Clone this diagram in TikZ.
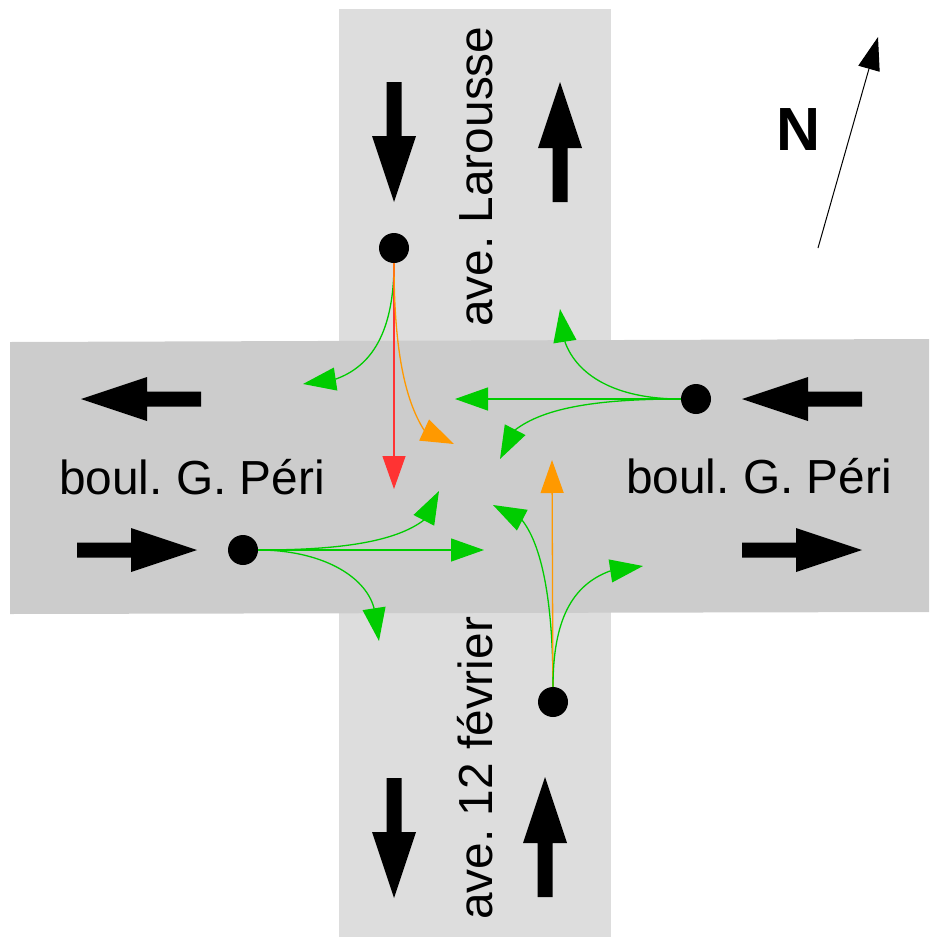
\documentclass[tikz,border=0pt]{standalone}
\usepackage{fontspec}
\setmainfont{Liberation Sans}
\frenchspacing
\usetikzlibrary{arrows.meta}
\definecolor{vroad}{HTML}{DDDDDD}
\definecolor{hroad}{HTML}{CCCCCC}
\definecolor{sgreen}{HTML}{00CC00}
\definecolor{sorange}{HTML}{FF9900}
\definecolor{sred}{HTML}{FF3333}
\tikzset{
  dot/.style={circle,fill=black,draw=none,minimum size=30pt,inner sep=0pt},
  turn/.style={line width=1.3pt,-{Triangle[length=33pt,width=23pt]}},
  gomove/.style={turn,sgreen},
  warnmove/.style={turn,sorange},
  stopmove/.style={turn,sred},
  roadlabel/.style={inner sep=0pt,font=\frenchspacing\fontsize{47.8}{50}\selectfont},
  northmark/.style={inner sep=0pt,font=\fontsize{61}{63}\selectfont\bfseries},
  northline/.style={line width=1pt,-{Triangle[length=33pt,width=22pt]}},
  blockarrow/.pic={\fill[black] (0,-7.5)--(54,-7.5)--(54,-22)--(120,0)--(54,22)--(54,7.5)--(0,7.5)--cycle;}
}
\begin{document}
\begin{tikzpicture}[x=1pt,y=-1pt]
\useasboundingbox (0,0) rectangle (929,937);
\fill[vroad] (339,9) rectangle (611,937);
\fill[hroad] (10,342)--(929,339)--(929,612)--(10,614)--cycle;

\pic[rotate=270] at (394,82) {blockarrow};
\pic[rotate=90] at (560,202) {blockarrow};
\pic[rotate=180] at (201,399) {blockarrow};
\pic[rotate=180] at (862,399) {blockarrow};
\pic at (77,550) {blockarrow};
\pic at (742,550) {blockarrow};
\pic[rotate=270] at (394,778) {blockarrow};
\pic[rotate=90] at (545,897) {blockarrow};

\node[dot] (dn) at (394,248) {};
\node[dot] (de) at (696,399) {};
\node[dot] (dw) at (243,550) {};
\node[dot] (ds) at (553,702) {};

\coordinate (ng) at (303,384);
\coordinate (ngb) at (336,379);
\coordinate (no) at (454,444);
\coordinate (nob) at (424,430);
\coordinate (nr) at (394,489);
\coordinate (eu) at (560,309);
\coordinate (eub) at (565,342);
\coordinate (el) at (455,399);
\coordinate (ed) at (500,459);
\coordinate (edb) at (515,430);
\coordinate (wu) at (439,491);
\coordinate (wub) at (424,520);
\coordinate (wr) at (484,550);
\coordinate (wd) at (379,641);
\coordinate (wdb) at (374,608);
\coordinate (so) at (552,460);
\coordinate (sl) at (493,505);
\coordinate (slb) at (522,520);
\coordinate (sr) at (643,566);
\coordinate (srb) at (610,571);
\coordinate (ntail) at (818,248);
\coordinate (ntip) at (878,37);

\draw[gomove] (dn) .. controls (394,340) and (366,368) .. (ngb) -- (ng);
\draw[stopmove] (dn) -- (nr);
\draw[warnmove] (dn) .. controls (394,350) and (405,400) .. (nob) -- (no);

\draw[gomove] (de) .. controls (615,399) and (577,375) .. (eub) -- (eu);
\draw[gomove] (de) -- (el);
\draw[gomove] (de) .. controls (600,399) and (545,407) .. (edb) -- (ed);

\draw[gomove] (dw) .. controls (340,550) and (395,542) .. (wub) -- (wu);
\draw[gomove] (dw) -- (wr);
\draw[gomove] (dw) .. controls (320,550) and (365,575) .. (wdb) -- (wd);

\draw[gomove] (ds) .. controls (553,610) and (544,548) .. (slb) -- (sl);
\draw[warnmove] (ds) -- (so);
\draw[gomove] (ds) .. controls (553,620) and (572,585) .. (srb) -- (sr);

\draw[northline] (ntail) -- (ntip);
\node[northmark,anchor=base west] (nl) at (776,150) {N};

\node[roadlabel,anchor=base west] (bw) at (59,494) {boul. G. Péri};
\node[roadlabel,anchor=base west] (be) at (626,493) {boul. G. Péri};
\node[roadlabel,anchor=base west,rotate=90] (al) at (492,327) {ave. Larousse};
\node[roadlabel,anchor=base west,rotate=90] (af) at (492,920) {ave. 12 février};
\end{tikzpicture}
\end{document}
